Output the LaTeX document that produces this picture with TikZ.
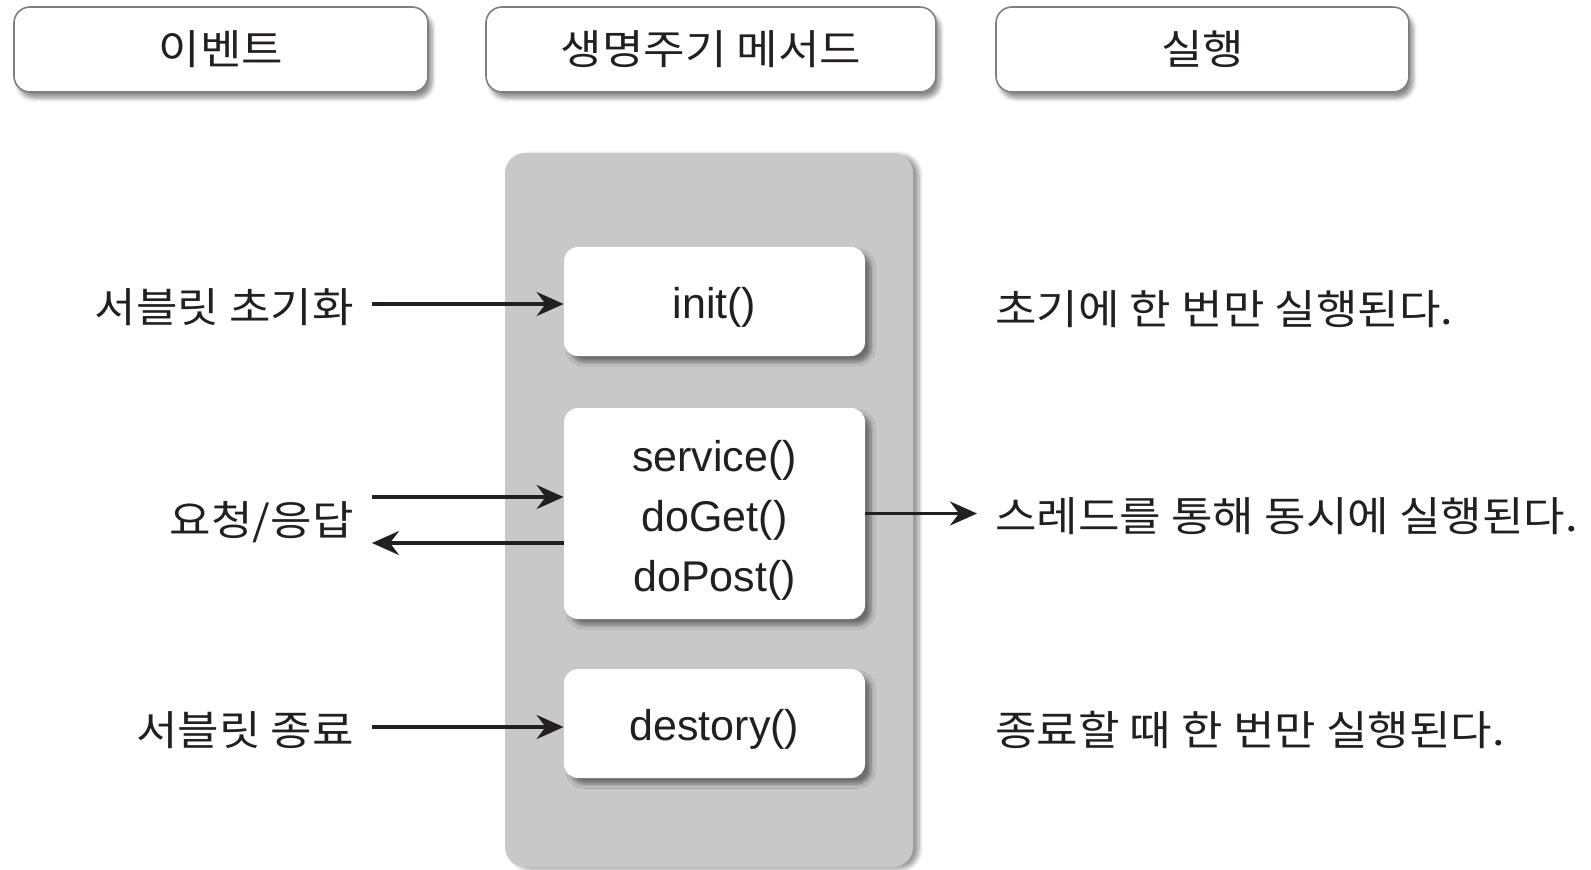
\documentclass[tikz,border=0pt]{standalone}
\usepackage{fontspec}
\setmainfont{Liberation Sans}
\newfontfamily\kr[FakeStretch=1.1]{Noto Sans CJK KR}
\usetikzlibrary{arrows.meta,shadows.blur}
\definecolor{ink}{HTML}{231F20}
\definecolor{panelgray}{HTML}{C8C8C8}
\definecolor{edgegray}{HTML}{7F7F7F}
\begin{document}
\begin{tikzpicture}[x=0.5pt,y=-0.5pt,
  head/.style={draw=edgegray, line width=0.8pt, fill=white, rounded corners=8pt,
    minimum width=#1, minimum height=42.5pt, inner sep=0pt,
    font=\kr\fontsize{20.5}{24}\selectfont, text=ink,
    blur shadow={shadow xshift=2pt, shadow yshift=-3pt, shadow blur steps=6, shadow opacity=45}},
  panel/.style={fill=panelgray, rounded corners=10pt, minimum width=204pt, minimum height=357pt, inner sep=0pt,
    blur shadow={shadow xshift=3pt, shadow yshift=-1pt, shadow blur steps=6, shadow opacity=40}},
  method/.style={fill=white, rounded corners=7pt, minimum width=150.5pt, minimum height=#1, inner sep=0pt,
    align=center, font=\fontsize{21.5}{30}\selectfont, text=ink,
    blur shadow={shadow xshift=3pt, shadow yshift=-3pt, shadow blur steps=6, shadow opacity=45}},
  lbl/.style={font=\kr\fontsize{20.5}{24}\selectfont, text=ink, inner xsep=9pt, inner ysep=0pt,
    text height=22pt, text depth=4pt},
  arr/.style={draw=ink, line width=1.6pt, -{Stealth[length=13.5pt, width=12pt, inset=4.5pt]}}
]
\useasboundingbox (0,0) rectangle (1591,869);

% headers
\node[head=207pt] (h1) at (221,49.5) {이벤트};
\node[head=225pt] (h2) at (711,49.5) {생명주기 메서드};
\node[head=206.5pt] (h3) at (1202.5,49.5) {실행};

% panel and methods
\node[panel] (panel) at (709,510) {};
\node[method=54.5pt, text height=21.5pt, text depth=4.5pt] (init) at (714.5,301.5) {init()};
\node[method=105.5pt] (svc) at (714.5,513.5) {\rule{0pt}{22pt}service()\\doGet()\\doPost()};
\node[method=54.5pt, text height=21.5pt, text depth=4.5pt] (dest) at (714.5,723.5) {destory()};

% left labels
\node[lbl, anchor=east] (ev1) at (372,304) {서블릿 초기화};
\node[lbl, anchor=east] (ev2) at (372,517) {요청/응답};
\node[lbl, anchor=east] (ev3) at (372,727) {서블릿 종료};

% right labels
\node[lbl, anchor=west] (ex1) at (977,306) {초기에 한 번만 실행된다.};
\node[lbl, anchor=west] (ex2) at (977,513) {스레드를 통해 동시에 실행된다.};
\node[lbl, anchor=west] (ex3) at (977,727) {종료할 때 한 번만 실행된다.};

% arrows
\draw[arr] (ev1.east) -- (ev1.east -| init.west);
\draw[arr] ([yshift=10pt]ev2.east) -- ([yshift=10pt]ev2.east -| svc.west);
\draw[arr] ([yshift=-13pt]ev2.east -| svc.west) -- ([yshift=-13pt]ev2.east);
\draw[arr] (ev3.east) -- (ev3.east -| dest.west);
\draw[arr] (svc.east) -- (svc.east -| ex2.west);
\end{tikzpicture}
\end{document}
